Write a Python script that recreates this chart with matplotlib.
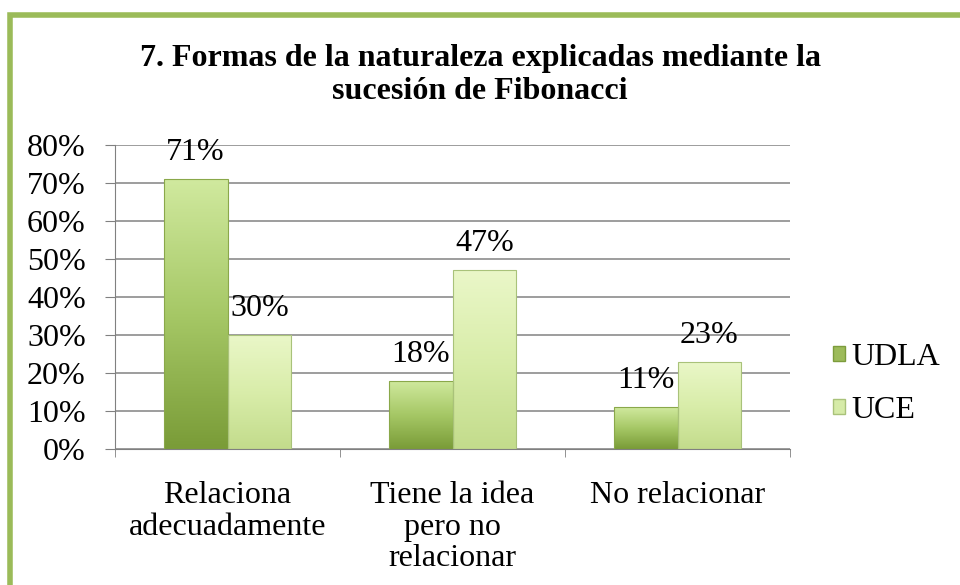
import numpy as np
import matplotlib.pyplot as plt
from matplotlib.patches import Rectangle
from matplotlib.colors import LinearSegmentedColormap

# Datos
categorias = ['Relaciona\nadecuadamente', 'Tiene la idea\npero no\nrelacionar', 'No relacionar']
udla = [71, 18, 11]
uce = [30, 47, 23]
series = ['UDLA', 'UCE']

plt.rcParams['font.family'] = ['Liberation Serif', 'DejaVu Serif']

fig = plt.figure(figsize=(9.6, 5.85), dpi=100)
ax = fig.add_axes([115 / 960, 1 - 449 / 585, (790 - 115) / 960, (449 - 145) / 585])

# Marco verde
fig.patches.append(Rectangle((10 / 960, -0.1), 1.2, (585 - 15) / 585 + 0.1,
                             transform=fig.transFigure, fill=False,
                             edgecolor='#9bbb59', linewidth=4, zorder=0))

cmap_udla = LinearSegmentedColormap.from_list('udla', ['#7a9c38', '#a6c866', '#d0e99e'])
cmap_uce = LinearSegmentedColormap.from_list('uce', ['#c3dc8c', '#d9edaa', '#eaf7c8'])

x = np.arange(len(categorias))
w = 0.283
grad = np.linspace(0, 1, 100).reshape(-1, 1)


def barras(pos, vals, cmap, edge):
    bars = ax.bar(pos, vals, w, color='none', edgecolor=edge, linewidth=0.8, zorder=3)
    for b in bars:
        x0, y0 = b.get_x(), b.get_y()
        im = ax.imshow(grad, extent=[x0, x0 + b.get_width(), y0, y0 + b.get_height()],
                       origin='lower', cmap=cmap, aspect='auto', zorder=2)
        im.set_clip_path(b)
        ax.text(b.get_x() + b.get_width() / 2, b.get_height() + 5, f'{b.get_height():.0f}%',
                ha='center', va='baseline', fontsize=23, zorder=4)
    return bars


barras(x - w / 2, udla, cmap_udla, '#8aa84a')
barras(x + w / 2, uce, cmap_uce, '#a9c27a')

ax.set_xlim(-0.5, len(categorias) - 0.5)
ax.set_ylim(0, 80)
ax.set_yticks(range(0, 81, 10))
ax.set_yticklabels([f'{v}%' for v in range(0, 81, 10)], fontsize=23)
ax.set_xticks([-0.5, 0.5, 1.5, 2.5], minor=True)
ax.set_xticks(x)
ax.set_xticklabels(categorias, fontsize=23, linespacing=1.12)
ax.tick_params(axis='x', which='major', length=0, pad=23)
ax.tick_params(axis='x', which='minor', length=6, color='#808080')
ax.tick_params(axis='y', length=7, color='#808080', pad=14)
ax.grid(axis='y', color='#8c8c8c', linewidth=1.2, zorder=0)
ax.set_axisbelow(True)
for s in ['top', 'right']:
    ax.spines[s].set_visible(False)
ax.spines['left'].set_color('#808080')
ax.spines['bottom'].set_color('#808080')

# Leyenda
h1 = Rectangle((0, 0), 1, 1, facecolor='#9dbb5a', edgecolor='#7c9c3c')
h2 = Rectangle((0, 0), 1, 1, facecolor='#d6eba8', edgecolor='#a9c27a')
fig.legend([h1, h2], series, loc='center left', bbox_to_anchor=(817 / 960, 1 - 384 / 585),
           frameon=False, fontsize=23, handlelength=0.38, handleheight=0.38,
           handletextpad=0.2, labelspacing=0.75, borderpad=0)

fig.text(0.5, 1 - 75 / 585, '7. Formas de la naturaleza explicadas mediante la\nsucesión de Fibonacci',
         ha='center', va='center', fontsize=23, fontweight='bold', linespacing=1.19)

fig.savefig('out.png', dpi=100)
